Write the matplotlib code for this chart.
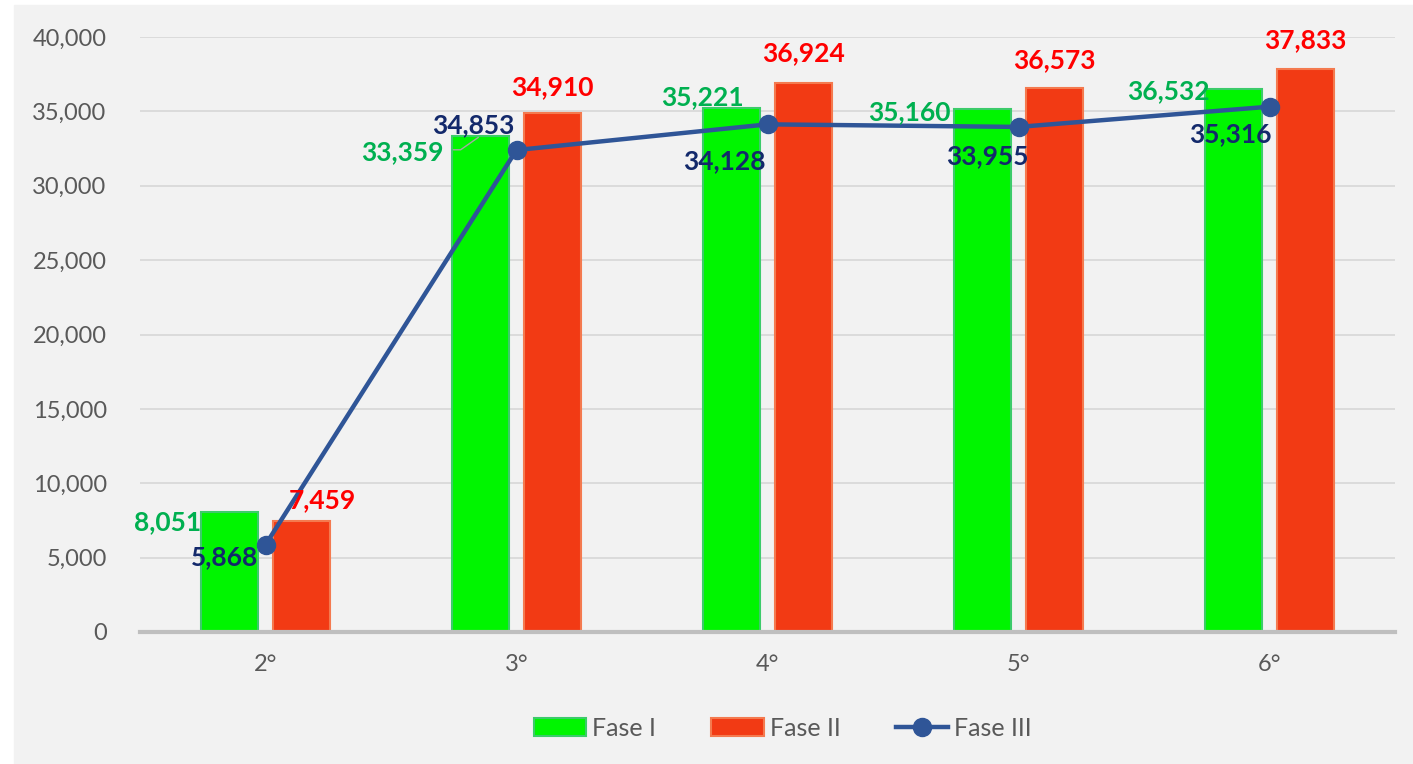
import numpy as np
from matplotlib import pyplot as plt
from matplotlib.patches import Rectangle
from matplotlib.ticker import FuncFormatter

# Datos
grados = ["2°", "3°", "4°", "5°", "6°"]
fase1 = [8051, 33359, 35221, 35160, 36532]
fase2 = [7459, 34910, 36924, 36573, 37833]
fase3 = [5868, 32400, 34128, 33955, 35316]
fase3_etiquetas = ["5,868", "34,853", "34,128", "33,955", "35,316"]

# Desplazamientos de las etiquetas (pixeles)
off1 = [(-62, -10), (-78, -16), (-29, 11), (-73, -3), (-65, -3)]
off2 = [(21, 21), (0, 26), (0, 30), (0, 28), (0, 29)]
off3 = [(-41, -12), (-43, 25), (-43, -37), (-31, -29), (-39, -27)]

VERDE = "#00F500"
ROJO = "#F23A14"
AZUL = "#2F5597"
GRIS = "#595959"

plt.rcParams["font.family"] = ["Lato", "DejaVu Sans"]

fig = plt.figure(figsize=(14.13, 7.64), dpi=100, facecolor="white")
fig.patches.append(Rectangle((14 / 1413, 0), 1, (764 - 5) / 764,
                             transform=fig.transFigure, color="#F2F2F2", zorder=-10))
ax = fig.add_axes([140 / 1413, 132 / 764, 1255 / 1413, 595 / 764])
ax.set_facecolor("#F2F2F2")

x = np.arange(len(grados))
ancho = 0.225
sep = 0.143

b1 = ax.bar(x - sep, fase1, ancho, color=VERDE, edgecolor="#3CCB6A", linewidth=1.5,
            label="Fase I", zorder=2)
b2 = ax.bar(x + sep, fase2, ancho, color=ROJO, edgecolor="#F47A4F", linewidth=1.5,
            label="Fase II", zorder=2)
l3, = ax.plot(x, fase3, color=AZUL, linewidth=3.2, marker="o", markersize=13,
              label="Fase III", zorder=3)

fuente = dict(fontsize=19, fontweight="bold", ha="center", va="center",
              textcoords="offset pixels", annotation_clip=False, zorder=4)
for i in range(len(grados)):
    ax.annotate(f"{fase1[i]:,}", (x[i] - sep, fase1[i]), xytext=off1[i],
                color="#00B050", **fuente)
    ax.annotate(f"{fase2[i]:,}", (x[i] + sep, fase2[i]), xytext=off2[i],
                color="#FF0000", **fuente)
    ax.annotate(fase3_etiquetas[i], (x[i], fase3[i]), xytext=off3[i],
                color="#13296B", **fuente)

# linea guia de la etiqueta 33,359
ax.annotate("", (x[1] - sep, fase1[1]), xytext=(-30, -14), textcoords="offset pixels",
            arrowprops=dict(arrowstyle="-", color="#A6A6A6", lw=1,
                            connectionstyle="angle,angleA=0,angleB=35,rad=0"), zorder=4)

ax.set_xlim(-0.5, len(grados) - 0.5)
ax.set_ylim(0, 40000)
ax.set_yticks(np.arange(0, 40001, 5000))
ax.yaxis.set_major_formatter(FuncFormatter(lambda v, p: f"{int(v):,}"))
ax.set_xticks(x)
ax.set_xticklabels(grados)
ax.tick_params(axis="both", length=0, labelsize=17, colors=GRIS)
ax.tick_params(axis="y", pad=24)
ax.tick_params(axis="x", pad=16)
ax.grid(axis="y", color="#D9D9D9", linewidth=1.3, zorder=0)
ax.set_axisbelow(True)
for s in ["top", "right", "left"]:
    ax.spines[s].set_visible(False)
ax.spines["bottom"].set_color("#BFBFBF")
ax.spines["bottom"].set_linewidth(3)

leg = fig.legend(handles=[b1, b2, l3], loc="center", bbox_to_anchor=(0.554, 0.047),
                 ncol=3, frameon=False, fontsize=18, handlelength=2.1,
                 handletextpad=0.25, columnspacing=2.2)
for t in leg.get_texts():
    t.set_color(GRIS)

fig.savefig("out.png", dpi=100, facecolor=fig.get_facecolor())
